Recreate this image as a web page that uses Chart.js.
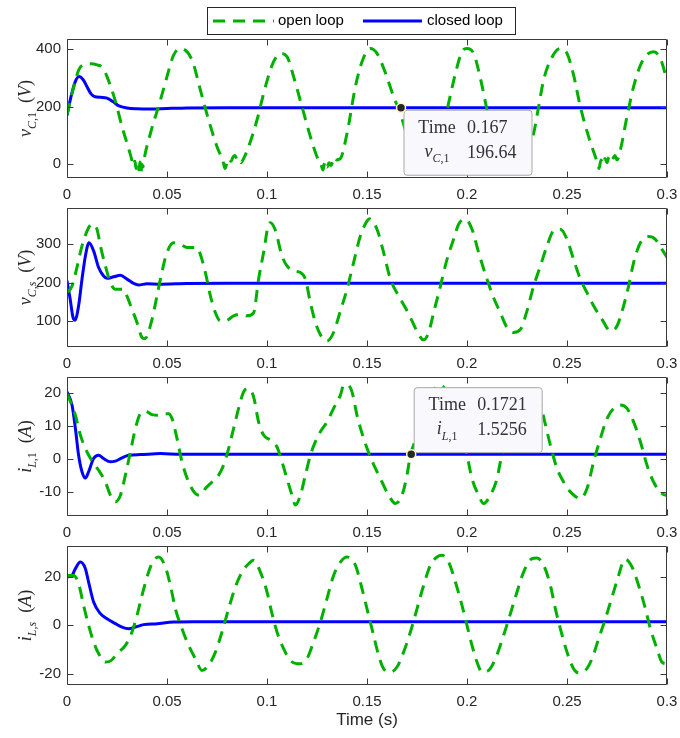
<!DOCTYPE html>
<html>
<head>
<meta charset="utf-8">
<script src="https://cdn.jsdelivr.net/npm/chart.js@4.4.1/dist/chart.umd.min.js"></script>
<style>
html, body { margin: 0; padding: 0; background: #fff; }
#fig { position: relative; width: 680px; height: 738px; overflow: hidden; background: #fff; }
#fig canvas { position: absolute; left: 0; }
</style>
</head>
<body>
<div id="fig">
  <canvas id="c1" width="680" height="208" style="top:0px"></canvas>
  <canvas id="c2" width="680" height="174" style="top:203px"></canvas>
  <canvas id="c3" width="680" height="174" style="top:372px"></canvas>
  <canvas id="c4" width="680" height="197" style="top:541px"></canvas>
</div>
<script>
// ---- data ----
const xTickValues = [0, 0.05, 0.1, 0.15, 0.2, 0.25, 0.3];
const xTickLabels = ['0', '0.05', '0.1', '0.15', '0.2', '0.25', '0.3'];
const legendLabels = ['open loop', 'closed loop'];

// v_C,1
const vc1OpenTime = [0, 0.003, 0.006, 0.009, 0.012, 0.015, 0.018, 0.020, 0.024, 0.0275, 0.031, 0.0325, 0.033, 0.034, 0.0345, 0.035, 0.036, 0.0365, 0.037, 0.0375, 0.038, 0.0385, 0.0417, 0.0467, 0.050, 0.0533, 0.0567, 0.0625, 0.0667, 0.0708, 0.075, 0.078, 0.079, 0.080, 0.081, 0.082, 0.083, 0.084, 0.085, 0.086, 0.087, 0.088, 0.0908, 0.095, 0.0992, 0.1033, 0.1067, 0.110, 0.1133, 0.1175, 0.1217, 0.125, 0.127, 0.128, 0.129, 0.130, 0.131, 0.132, 0.133, 0.134, 0.135, 0.1367, 0.140, 0.1442, 0.1475, 0.1517, 0.155, 0.1592, 0.1633, 0.1665, 0.170, 0.173, 0.175, 0.177, 0.179, 0.181, 0.183, 0.1867, 0.190, 0.1942, 0.1975, 0.200, 0.2033, 0.2067, 0.210, 0.2133, 0.216, 0.218, 0.220, 0.222, 0.224, 0.226, 0.228, 0.231, 0.2333, 0.2358, 0.2383, 0.2417, 0.2467, 0.250, 0.2533, 0.2567, 0.2608, 0.2642, 0.265, 0.266, 0.267, 0.268, 0.269, 0.270, 0.271, 0.272, 0.273, 0.274, 0.275, 0.2767, 0.280, 0.2833, 0.2875, 0.2933, 0.2967, 0.300];
const vc1OpenValues = [172, 260, 330, 348, 350, 346, 335, 305, 224, 131, 50, 12, -5, 10, -15, 5, -20, 8, -25, 0, -10, 15, 107, 223, 305, 380, 403, 363, 258, 154, 61, 10, -15, 5, 20, 10, 25, 30, 18, 22, 5, 15, 61, 154, 270, 357, 386, 375, 305, 200, 96, 26, 0, -20, 10, -10, 5, -5, 10, 0, 15, 20, 107, 270, 357, 403, 386, 318, 235, 180, 100, 40, 12, -5, 5, 0, 15, 107, 189, 316, 392, 403, 386, 299, 189, 84, 26, 5, -10, 5, -5, 10, 20, 60, 107, 200, 293, 362, 403, 386, 310, 200, 96, 26, 10, -15, 15, 0, 20, 5, 25, 10, 20, 30, 15, 50, 166, 270, 357, 392, 368, 293];
const vc1ClosedTime = [0, 0.002, 0.004, 0.006, 0.008, 0.010, 0.012, 0.014, 0.017, 0.020, 0.023, 0.026, 0.030, 0.035, 0.042, 0.050, 0.060, 0.080, 0.300];
const vc1ClosedValues = [170, 235, 285, 305, 295, 270, 245, 235, 233, 230, 218, 203, 196, 193, 192, 194, 196, 196.6, 196.64];

// v_C,s
const vcsOpenTime = [0, 0.0025, 0.005, 0.0075, 0.0108, 0.0125, 0.015, 0.0167, 0.0192, 0.0217, 0.0242, 0.0283, 0.030, 0.0325, 0.035, 0.0375, 0.039, 0.0425, 0.045, 0.0467, 0.050, 0.0533, 0.0567, 0.060, 0.065, 0.0667, 0.0692, 0.0717, 0.0742, 0.0767, 0.0792, 0.0833, 0.0867, 0.090, 0.0933, 0.0958, 0.0983, 0.1008, 0.1017, 0.104, 0.1075, 0.110, 0.1133, 0.1167, 0.1192, 0.1217, 0.1242, 0.1275, 0.130, 0.1333, 0.1367, 0.140, 0.1433, 0.1467, 0.150, 0.1513, 0.155, 0.1583, 0.1617, 0.1658, 0.1692, 0.1725, 0.1758, 0.1783, 0.1808, 0.1833, 0.1867, 0.190, 0.1933, 0.1958, 0.1992, 0.2025, 0.2058, 0.210, 0.2133, 0.2167, 0.220, 0.2233, 0.2267, 0.230, 0.2333, 0.2367, 0.240, 0.2433, 0.2467, 0.250, 0.2533, 0.2567, 0.260, 0.2633, 0.2675, 0.2717, 0.275, 0.2783, 0.2808, 0.2833, 0.2867, 0.2908, 0.2942, 0.2975, 0.300];
const vcsOpenValues = [174, 191, 240, 295, 342, 351, 338, 295, 243, 200, 183, 183, 165, 131, 97, 58, 55, 105, 166, 209, 278, 303, 299, 291, 291, 273, 226, 166, 122, 101, 101, 114, 118, 114, 122, 209, 278, 351, 355, 338, 269, 243, 230, 226, 209, 148, 97, 58, 49, 71, 127, 183, 252, 321, 359, 365, 338, 278, 209, 166, 135, 101, 66, 52, 71, 122, 191, 260, 312, 351, 364, 338, 278, 209, 161, 122, 84, 71, 79, 127, 191, 243, 295, 334, 338, 312, 260, 209, 174, 140, 105, 75, 88, 140, 191, 252, 303, 319, 312, 286, 265];
const vcsClosedTime = [0, 0.0015, 0.003, 0.004, 0.0058, 0.0075, 0.0092, 0.011, 0.0133, 0.0158, 0.0183, 0.020, 0.0233, 0.0267, 0.030, 0.0333, 0.0358, 0.040, 0.0467, 0.060, 0.080, 0.300];
const vcsClosedValues = [205, 160, 110, 103, 140, 209, 269, 303, 282, 239, 217, 211, 215, 219, 209, 198, 194, 197, 196, 198, 198.5, 198.5];

// i_L,1
const il1OpenTime = [0, 0.0042, 0.0067, 0.010, 0.013, 0.016, 0.0192, 0.0217, 0.0242, 0.0267, 0.0292, 0.0317, 0.0342, 0.0367, 0.0392, 0.0425, 0.0458, 0.0483, 0.0508, 0.0525, 0.055, 0.0575, 0.0608, 0.0642, 0.0667, 0.0692, 0.0725, 0.0758, 0.0783, 0.0808, 0.0833, 0.0858, 0.0883, 0.0908, 0.0933, 0.0958, 0.0983, 0.1017, 0.105, 0.1075, 0.110, 0.1125, 0.1142, 0.1167, 0.1192, 0.1217, 0.1242, 0.1267, 0.130, 0.1333, 0.1367, 0.1383, 0.140, 0.1425, 0.145, 0.1483, 0.1517, 0.155, 0.1575, 0.1608, 0.1642, 0.1675, 0.170, 0.1717, 0.175, 0.178, 0.181, 0.184, 0.1867, 0.190, 0.195, 0.200, 0.2025, 0.2058, 0.2083, 0.2117, 0.215, 0.2167, 0.220, 0.224, 0.228, 0.232, 0.236, 0.239, 0.2417, 0.245, 0.2483, 0.2517, 0.2567, 0.260, 0.2633, 0.2667, 0.270, 0.2733, 0.2767, 0.280, 0.2833, 0.2867, 0.290, 0.2933, 0.2975, 0.300];
const il1OpenValues = [20, 13.3, 7.3, 2.2, -1, -3.5, -6.9, -10.9, -12.9, -10.9, -4.8, 2.2, 9.3, 13.8, 14.5, 13.5, 13.3, 13.8, 13.8, 12.3, 6.3, -0.8, -6.9, -10.4, -10.9, -8.9, -6.9, -4.8, -1.8, 3.2, 9.3, 15.4, 20.4, 21.4, 18.9, 11.3, 7.3, 5.8, 3.7, -0.8, -5.9, -10.9, -13.9, -10.9, -4.8, 1.2, 5.3, 8.3, 11.3, 15.4, 19.4, 22.4, 22.6, 20.4, 13.3, 6.3, 0.7, -3.8, -6.9, -10.9, -13.4, -10.9, -4.8, 1.2, 7, 13, 18, 21.5, 22.4, 20.4, 12, 1.2, -5.9, -10.9, -13.4, -10.9, -5.9, -0.8, 6.3, 13, 19, 21, 18, 11, 4.2, -2.8, -6.9, -9.9, -11.9, -8.9, -0.8, 6.3, 12.3, 15.4, 16.4, 15.4, 11.3, 5.3, -1.8, -6.9, -10.4, -11];
const il1ClosedTime = [0, 0.0025, 0.0042, 0.0058, 0.0075, 0.0092, 0.0108, 0.0133, 0.0158, 0.0183, 0.0217, 0.0242, 0.0275, 0.0308, 0.0367, 0.0467, 0.0567, 0.300];
const il1ClosedValues = [20.4, 16.4, 9.3, 1.2, -3.8, -5.7, -3.8, 0.2, 1.2, 0.2, -0.8, -0.6, 0.4, 1.2, 1.4, 1.7, 1.5, 1.5256];

// i_L,s
const ilsOpenTime = [0, 0.0033, 0.0058, 0.0083, 0.0108, 0.0133, 0.0158, 0.0192, 0.022, 0.025, 0.0292, 0.0325, 0.035, 0.0375, 0.0408, 0.0433, 0.0458, 0.0492, 0.0517, 0.0542, 0.0575, 0.0608, 0.0642, 0.0675, 0.0708, 0.0742, 0.0775, 0.0808, 0.0842, 0.0875, 0.0908, 0.0933, 0.0967, 0.100, 0.1025, 0.105, 0.1083, 0.1117, 0.115, 0.1167, 0.120, 0.1233, 0.1267, 0.130, 0.1333, 0.1367, 0.140, 0.1442, 0.1475, 0.1508, 0.1533, 0.1558, 0.1583, 0.1617, 0.165, 0.1683, 0.1717, 0.175, 0.1783, 0.1817, 0.185, 0.1875, 0.1908, 0.1942, 0.1975, 0.200, 0.2025, 0.205, 0.2075, 0.2108, 0.2142, 0.2183, 0.2217, 0.225, 0.2283, 0.2325, 0.235, 0.2383, 0.2417, 0.2442, 0.2467, 0.250, 0.2533, 0.2558, 0.2592, 0.2625, 0.2658, 0.2692, 0.2725, 0.2758, 0.2783, 0.2792, 0.2825, 0.2858, 0.2892, 0.2917, 0.295, 0.2975, 0.300];
const ilsOpenValues = [20.5, 20.5, 17.1, 8.2, 0, -6.8, -11.6, -15.1, -14.5, -11.6, -8.2, -2.7, 4.1, 12.3, 21.9, 26.7, 28.1, 24, 16.4, 6.8, -1.4, -8.2, -13.7, -18.5, -16.4, -11, -2.7, 6.8, 15.8, 21.9, 25.3, 26.7, 21.9, 13.7, 4.8, -2.7, -9.6, -14.4, -15.8, -15.8, -13.7, -6.8, 1.4, 11, 20.5, 26, 28.1, 24.7, 15.1, 4.1, -4.1, -12.3, -17.8, -19.2, -17.1, -11, -2.7, 6.8, 16.4, 24.7, 28.1, 28.8, 26, 17.8, 8.2, 0, -8.2, -15.1, -19.2, -18.5, -13.7, -4.1, 4.8, 13.7, 21.9, 27.4, 27.7, 24.7, 16.4, 6.8, -1.4, -11, -17.8, -19.5, -18.5, -13.7, -5.5, 2.7, 11.6, 20.5, 26.7, 27.1, 24, 16.4, 6.8, -1.4, -9.6, -15.1, -15.8];
const ilsClosedTime = [0, 0.0025, 0.0042, 0.0067, 0.0092, 0.0108, 0.0133, 0.0167, 0.020, 0.0242, 0.0275, 0.0308, 0.0342, 0.0383, 0.045, 0.0533, 0.0633, 0.300];
const ilsClosedValues = [19.9, 20.5, 23.3, 26, 23.3, 17.8, 9.6, 4.8, 2.7, 0.7, -0.7, -1.4, -0.7, 0.3, 0.7, 1.4, 1.5, 1.5];

// data tips
const tip1 = { time: 0.167, value: 196.64, text: ['0.167', '196.64'] };
const tip3 = { time: 0.1721, value: 1.5256, text: ['0.1721', '1.5256'] };

// ---- styling ----
const GREEN = 'rgb(0,176,0)';
const BLUE = '#0000ff';
const AXIS = '#3a3a3a';
const TEXT = '#262626';
const SANS = '"Liberation Sans", Arial, Helvetica, sans-serif';
const SERIF = '"Liberation Serif", "Times New Roman", serif';

function toPoints(times, values) {
  return times.map((t, i) => ({ x: t, y: values[i] }));
}

function richFont(style, size) {
  const sub = style[0] === 's';
  const italic = style[style.length - 1] === 'i';
  const px = sub ? Math.round(size * 0.68) : size;
  return (italic ? 'italic ' : '') + px + 'px ' + SERIF;
}

// draws a run of [text, style] pieces; style: 'i' italic, 'r' roman, 'si'/'sr' subscript
function drawRich(ctx, pieces, x, y, size, measureOnly) {
  let cx = x;
  for (const [text, style] of pieces) {
    ctx.font = richFont(style, size);
    const dy = style[0] === 's' ? size * 0.3 : 0;
    if (!measureOnly) ctx.fillText(text, cx, y + dy);
    cx += ctx.measureText(text).width;
  }
  return cx - x;
}

const framePlugin = {
  id: 'frame',
  afterDatasetsDraw(chart, args, opts) {
    const { ctx, chartArea: a, scales: { x, y } } = chart;
    const L = Math.round(a.left) + 0.5, R = Math.round(a.right) - 0.5;
    const T = Math.round(a.top) + 0.5, B = Math.round(a.bottom) - 0.5;
    ctx.save();
    ctx.strokeStyle = AXIS;
    ctx.lineWidth = 1;
    ctx.beginPath();
    ctx.rect(L, T, R - L, B - T);
    const len = 6;
    x.ticks.forEach(t => {
      const px = Math.round(x.getPixelForValue(t.value)) + 0.5;
      ctx.moveTo(px, B); ctx.lineTo(px, B - len);
      ctx.moveTo(px, T); ctx.lineTo(px, T + len);
    });
    y.ticks.forEach(t => {
      const py = Math.round(y.getPixelForValue(t.value)) + 0.5;
      ctx.moveTo(L, py); ctx.lineTo(L + len, py);
      ctx.moveTo(R, py); ctx.lineTo(R - len, py);
    });
    ctx.stroke();
    ctx.restore();
  },
  afterDraw(chart, args, opts) {
    const { ctx, chartArea: a } = chart;
    // rotated y label with subscript
    ctx.save();
    ctx.fillStyle = TEXT;
    ctx.textBaseline = 'alphabetic';
    ctx.translate(31, (a.top + a.bottom) / 2);
    ctx.rotate(-Math.PI / 2);
    const w = drawRich(ctx, opts.yLabel, 0, 0, 18, true);
    drawRich(ctx, opts.yLabel, -w / 2, 0, 18, false);
    ctx.restore();

    if (opts.tip) drawTip(chart, opts.tip, opts.tipLabel, opts.tipPlace);
    if (opts.legend) drawLegend(ctx);
  }
};

function drawTip(chart, tip, label, place) {
  const { ctx, scales: { x, y } } = chart;
  const px = x.getPixelForValue(tip.time);
  const py = y.getPixelForValue(tip.value);
  const bw = 128, bh = 65;
  const bx = px + 2.5;
  const by = place === 'below' ? py + 2 : py - 2 - bh;
  ctx.save();
  ctx.beginPath();
  ctx.roundRect(bx + 0.5, by + 0.5, bw, bh, 3);
  ctx.fillStyle = '#f8f8fd';
  ctx.fill();
  ctx.strokeStyle = '#a8a8a8';
  ctx.lineWidth = 1;
  ctx.stroke();

  ctx.fillStyle = '#333';
  ctx.textBaseline = 'alphabetic';
  const colMid = bx + 33.5, valX = bx + 63.5;
  ctx.font = '18px ' + SERIF;
  ctx.textAlign = 'center';
  ctx.fillText('Time', colMid, by + 23);
  ctx.textAlign = 'left';
  ctx.fillText(tip.text[0], valX, by + 23);
  const lw = drawRich(ctx, label, 0, 0, 18, true);
  drawRich(ctx, label, colMid - lw / 2, by + 47, 18, false);
  ctx.font = '18px ' + SERIF;
  ctx.fillText(tip.text[1], valX, by + 48);

  // marker
  ctx.beginPath();
  ctx.arc(px, py, 4.5, 0, Math.PI * 2);
  ctx.fillStyle = '#262626';
  ctx.fill();
  ctx.strokeStyle = '#fff6c8';
  ctx.lineWidth = 1.5;
  ctx.stroke();
  ctx.restore();
}

function drawLegend(ctx) {
  ctx.save();
  ctx.fillStyle = '#fff';
  ctx.fillRect(207.5, 7.5, 308, 27);
  ctx.strokeStyle = '#262626';
  ctx.lineWidth = 1;
  ctx.strokeRect(207.5, 7.5, 308, 27);
  ctx.lineWidth = 3;
  ctx.lineCap = 'butt';
  ctx.strokeStyle = GREEN;
  ctx.setLineDash([12, 8]);
  ctx.beginPath(); ctx.moveTo(213, 21); ctx.lineTo(274, 21); ctx.stroke();
  ctx.setLineDash([]);
  ctx.strokeStyle = BLUE;
  ctx.beginPath(); ctx.moveTo(363, 21); ctx.lineTo(422, 21); ctx.stroke();
  ctx.fillStyle = '#000';
  ctx.font = '15px ' + SANS;
  ctx.textBaseline = 'middle';
  ctx.fillText(legendLabels[0], 278, 21);
  ctx.fillText(legendLabels[1], 427, 21);
  ctx.restore();
}

function makePanel(id, cfg) {
  return new Chart(document.getElementById(id), {
    type: 'line',
    data: {
      datasets: [
        {
          label: legendLabels[0],
          data: toPoints(cfg.openTime, cfg.openValues),
          borderColor: GREEN,
          borderWidth: 3,
          borderDash: [12, 8],
          borderCapStyle: 'butt',
          pointRadius: 0,
          cubicInterpolationMode: 'monotone',
          fill: false
        },
        {
          label: legendLabels[1],
          data: toPoints(cfg.closedTime, cfg.closedValues),
          borderColor: BLUE,
          borderWidth: 3,
          pointRadius: 0,
          cubicInterpolationMode: 'monotone',
          fill: false
        }
      ]
    },
    options: {
      responsive: false,
      animation: false,
      events: [],
      layout: { padding: { left: 0, right: 13, top: cfg.padTop, bottom: 0 } },
      plugins: {
        legend: { display: false },
        tooltip: { enabled: false },
        frame: {
          yLabel: cfg.yLabel,
          tip: cfg.tip,
          tipLabel: cfg.tipLabel,
          tipPlace: cfg.tipPlace,
          legend: cfg.legend
        }
      },
      scales: {
        x: {
          type: 'linear',
          min: 0,
          max: 0.3,
          grid: { display: false, drawTicks: false },
          border: { display: false },
          afterBuildTicks: s => { s.ticks = xTickValues.map(v => ({ value: v })); },
          afterFit: s => {
            s.height = cfg.xAxisHeight;
            s.paddingLeft = 0; s.paddingRight = 0;
          },
          ticks: {
            autoSkip: false,
            maxRotation: 0,
            padding: 8,
            color: TEXT,
            font: { family: SANS, size: 15 },
            callback: (v, i) => xTickLabels[i]
          },
          title: cfg.xTitle ? {
            display: true,
            text: cfg.xTitle,
            color: TEXT,
            font: { family: SANS, size: 17 },
            padding: { top: 0, bottom: 7 }
          } : { display: false }
        },
        y: {
          type: 'linear',
          min: cfg.yMin,
          max: cfg.yMax,
          grid: { display: false, drawTicks: false },
          border: { display: false },
          afterBuildTicks: s => { s.ticks = cfg.yTicks.map(v => ({ value: v })); },
          afterFit: s => {
            s.width = 67;
            s.paddingTop = 0; s.paddingBottom = 0;
          },
          ticks: {
            padding: 6,
            color: TEXT,
            font: { family: SANS, size: 15 },
            callback: (v, i) => cfg.yTickLabels[i]
          }
        }
      }
    },
    plugins: [framePlugin]
  });
}

makePanel('c1', {
  openTime: vc1OpenTime, openValues: vc1OpenValues,
  closedTime: vc1ClosedTime, closedValues: vc1ClosedValues,
  yMin: -48, yMax: 436, yTicks: [0, 200, 400], yTickLabels: ['0', '200', '400'],
  yLabel: [['v', 'i'], ['C', 'si'], [',1', 'sr'], ['  (', 'r'], ['V', 'i'], [')', 'r']],
  tip: tip1, tipLabel: [['v', 'i'], ['C', 'si'], [',1', 'sr']], tipPlace: 'below',
  legend: true, padTop: 39, xAxisHeight: 30
});
makePanel('c2', {
  openTime: vcsOpenTime, openValues: vcsOpenValues,
  closedTime: vcsClosedTime, closedValues: vcsClosedValues,
  yMin: 33.5, yMax: 393, yTicks: [100, 200, 300], yTickLabels: ['100', '200', '300'],
  yLabel: [['v', 'i'], ['C', 'si'], [',', 'sr'], ['s', 'si'], ['  (', 'r'], ['V', 'i'], [')', 'r']],
  padTop: 5, xAxisHeight: 30
});
makePanel('c3', {
  openTime: il1OpenTime, openValues: il1OpenValues,
  closedTime: il1ClosedTime, closedValues: il1ClosedValues,
  yMin: -17.2, yMax: 24.9, yTicks: [-10, 0, 10, 20], yTickLabels: ['-10', '0', '10', '20'],
  yLabel: [['i', 'i'], ['L', 'si'], [',1', 'sr'], ['  (', 'r'], ['A', 'i'], [')', 'r']],
  tip: tip3, tipLabel: [['i', 'i'], ['L', 'si'], [',1', 'sr']], tipPlace: 'above',
  padTop: 5, xAxisHeight: 30
});
makePanel('c4', {
  openTime: ilsOpenTime, openValues: ilsOpenValues,
  closedTime: ilsClosedTime, closedValues: ilsClosedValues,
  yMin: -24.5, yMax: 32.6, yTicks: [-20, 0, 20], yTickLabels: ['-20', '0', '20'],
  yLabel: [['i', 'i'], ['L', 'si'], [',', 'sr'], ['s', 'si'], ['  (', 'r'], ['A', 'i'], [')', 'r']],
  xTitle: 'Time (s)',
  padTop: 5, xAxisHeight: 53
});
</script>
</body>
</html>
